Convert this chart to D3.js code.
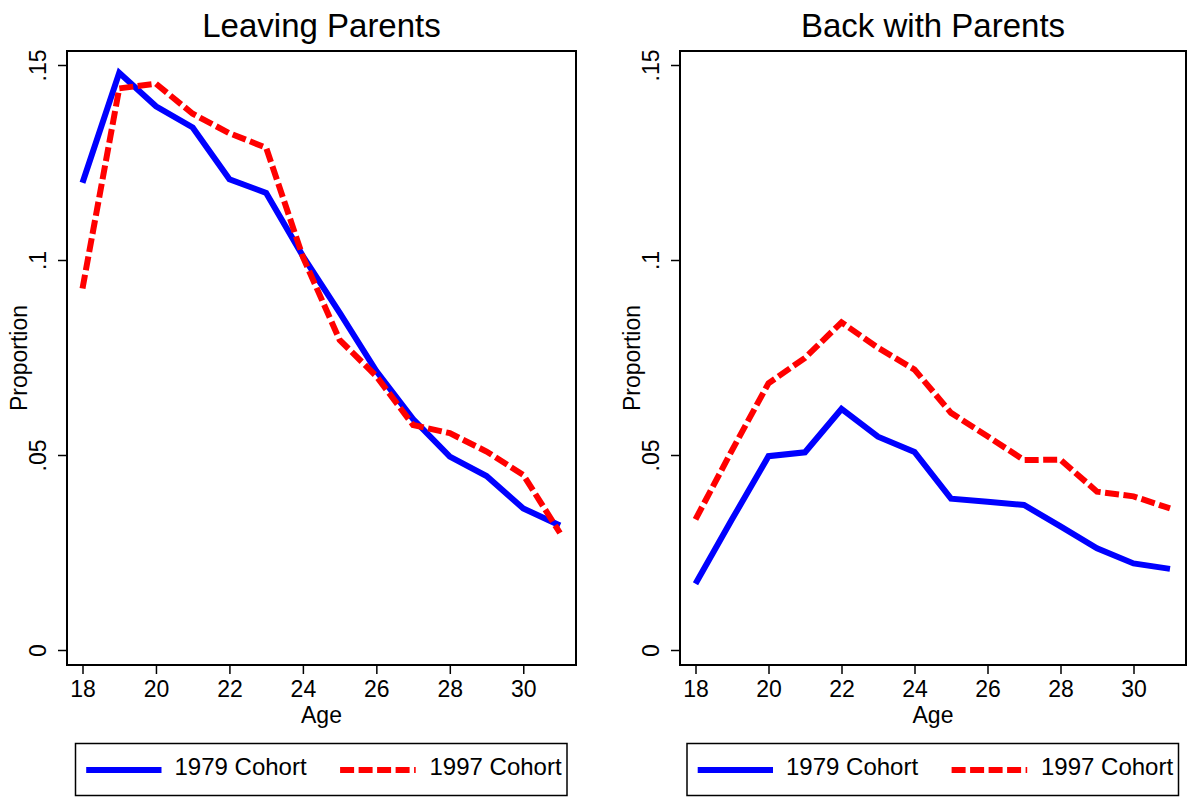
<!DOCTYPE html>
<html>
<head>
<meta charset="utf-8">
<script src="https://cdn.jsdelivr.net/npm/d3@7"></script>
<style>
  body { margin: 0; background: #fff; }
  svg { display: block; }
  text { font-family: "Liberation Sans", Arial, Helvetica, sans-serif; fill: #000; }
</style>
</head>
<body>
<svg id="chart" width="1188" height="797"></svg>
<script>
// ---- Data -------------------------------------------------------------
const ages = [18, 19, 20, 21, 22, 23, 24, 25, 26, 27, 28, 29, 30, 31];

// Proportion leaving the parental home, by age
const leaving1979 = [0.1198, 0.1480, 0.1394, 0.1340, 0.1207, 0.1172, 0.1010, 0.0865, 0.0715, 0.0592, 0.0496, 0.0446, 0.0363, 0.0319];
const leaving1997 = [0.0927, 0.1440, 0.1452, 0.1375, 0.1325, 0.1288, 0.1008, 0.0795, 0.0702, 0.0577, 0.0556, 0.0509, 0.0449, 0.0300];

// Proportion moving back in with parents, by age
const back1979 = [0.0170, 0.0335, 0.0497, 0.0507, 0.0618, 0.0547, 0.0508, 0.0388, 0.0380, 0.0372, 0.0317, 0.0261, 0.0222, 0.0208];
const back1997 = [0.0335, 0.0512, 0.0684, 0.0749, 0.0840, 0.0775, 0.0719, 0.0608, 0.0548, 0.0487, 0.0488, 0.0406, 0.0394, 0.0363];

const xTickValues = [18, 20, 22, 24, 26, 28, 30];
const yTickValues = [0, 0.05, 0.1, 0.15];
const yTickLabels = ["0", ".05", ".1", ".15"];
const seriesNames = ["1979 Cohort", "1997 Cohort"];
const panelTitles = ["Leaving Parents", "Back with Parents"];

// ---- Layout -----------------------------------------------------------
const svg = d3.select("#chart");
const frameTop = 51, frameBottom = 665;
const panels = [
  { title: panelTitles[0], left: 67, right: 576, series: [leaving1979, leaving1997] },
  { title: panelTitles[1], left: 680, right: 1186, series: [back1979, back1997] }
];
const seriesStyle = [
  { color: "#0000ff", dash: null },
  { color: "#ff0000", dash: "14,4.5" }
];
const tickLen = 9;

panels.forEach(p => {
  const g = svg.append("g");
  const x = d3.scaleLinear().domain([18, 31]).range([p.left + 15.5, p.right - 16]);
  const y = d3.scaleLinear().domain([0, 0.15]).range([650, 65]);
  const cx = (p.left + p.right) / 2;

  // Title
  g.append("text")
    .attr("x", cx).attr("y", 36.5)
    .attr("text-anchor", "middle")
    .style("font-size", "33px")
    .text(p.title);

  // Series lines
  p.series.forEach((vals, i) => {
    const line = d3.line().x((d, k) => x(ages[k])).y(d => y(d));
    g.append("path")
      .datum(vals)
      .attr("d", line)
      .attr("fill", "none")
      .attr("stroke", seriesStyle[i].color)
      .attr("stroke-width", 6)
      .attr("stroke-linejoin", "miter")
      .attr("stroke-miterlimit", 3)
      .attr("stroke-dasharray", seriesStyle[i].dash);
  });

  // Plot frame
  g.append("rect")
    .attr("x", p.left).attr("y", frameTop)
    .attr("width", p.right - p.left).attr("height", frameBottom - frameTop)
    .attr("fill", "none").attr("stroke", "#000").attr("stroke-width", 2);

  // Y axis (rotated tick labels)
  const yAxis = d3.axisLeft(y)
    .tickValues(yTickValues)
    .tickSize(tickLen)
    .tickFormat((d, i) => yTickLabels[i]);
  const ya = g.append("g").attr("transform", `translate(${p.left},0)`).call(yAxis);
  ya.select(".domain").remove();
  ya.selectAll(".tick line").attr("stroke", "#000").attr("stroke-width", 1.5);
  ya.selectAll(".tick text")
    .attr("x", 0).attr("y", -21).attr("dy", null)
    .attr("transform", "rotate(-90)")
    .attr("text-anchor", "middle")
    .style("font-size", "23px")
    .attr("font-family", null);

  // X axis
  const xAxis = d3.axisBottom(x).tickValues(xTickValues).tickSize(tickLen).tickFormat(d3.format("d"));
  const xa = g.append("g").attr("transform", `translate(0,${frameBottom})`).call(xAxis);
  xa.select(".domain").remove();
  xa.selectAll(".tick line").attr("stroke", "#000").attr("stroke-width", 1.5);
  xa.selectAll(".tick text")
    .attr("y", 31.7).attr("dy", null)
    .style("font-size", "23px")
    .attr("font-family", null);

  // Axis titles
  g.append("text")
    .attr("x", cx).attr("y", 723.3)
    .attr("text-anchor", "middle")
    .style("font-size", "23px")
    .text("Age");
  g.append("text")
    .attr("transform", `translate(${p.left - 40},${(frameTop + frameBottom) / 2}) rotate(-90)`)
    .attr("text-anchor", "middle")
    .style("font-size", "23px")
    .text("Proportion");

  // Legend
  const lx = cx - 246;
  const lg = g.append("g").attr("transform", `translate(${lx},743.5)`);
  lg.append("rect")
    .attr("x", 0).attr("y", 0).attr("width", 491.5).attr("height", 52)
    .attr("fill", "#fff").attr("stroke", "#000").attr("stroke-width", 1.5);
  const items = [
    { sx: 10.7, ex: 86, tx: 99 },
    { sx: 264.6, ex: 340.2, tx: 354 }
  ];
  items.forEach((it, i) => {
    lg.append("line")
      .attr("x1", it.sx).attr("x2", it.ex).attr("y1", 26.5).attr("y2", 26.5)
      .attr("stroke", seriesStyle[i].color).attr("stroke-width", 6)
      .attr("stroke-dasharray", seriesStyle[i].dash);
    lg.append("text")
      .attr("x", it.tx).attr("y", 31.5)
      .style("font-size", "24px")
      .text(seriesNames[i]);
  });
});
</script>
</body>
</html>
